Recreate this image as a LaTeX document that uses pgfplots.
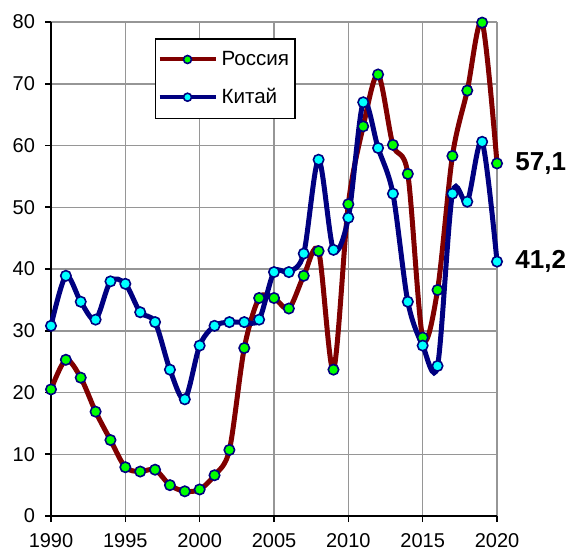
\documentclass[border=0pt]{standalone}
\usepackage{pgfplots}
\pgfplotsset{compat=1.18}
\usepackage{fontspec}
\setmainfont{Liberation Sans}

\definecolor{rus}{RGB}{128,0,0}
\definecolor{chn}{RGB}{0,0,128}
\definecolor{gmark}{RGB}{0,255,0}
\definecolor{cmark}{RGB}{0,255,255}
\definecolor{gridgray}{RGB}{150,150,150}

\begin{document}
\begin{tikzpicture}
\begin{axis}[
    scale only axis,
    width=223pt,
    height=247pt,
    xmin=1990, xmax=2020,
    ymin=0, ymax=80,
    xtick={1990,1995,...,2020},
    ytick={0,10,...,80},
    grid=major,
    grid style={gridgray, line width=0.75pt},
    axis x line=bottom,
    axis y line=left,
    axis line style={black, line width=0.8pt, -},
    tick style={black, line width=0.8pt},
    tick align=outside,
    major tick length=3pt,
    tick label style={font=\fontsize{10}{12}\selectfont},
    xticklabel style={yshift=-2pt},
    yticklabel style={xshift=-1.5pt},
    /pgf/number format/1000 sep={},
    /pgf/number format/assume math mode=true,
    clip=false,
    legend style={at={(0.233,0.967)}, anchor=north west, draw=black,
        line width=0.6pt, font=\fontsize{10.3}{12}\selectfont,
        inner xsep=1pt, inner ysep=4pt, row sep=6pt},
    legend cell align=left,
    legend image code/.code={\draw[mark repeat=2, mark phase=2, #1,
        line width=2pt, mark size=2pt]
        plot coordinates {(0pt,0pt)(14pt,0pt)(28pt,0pt)};},
]
\addplot[color=rus, line width=2.5pt, smooth, tension=0.5,
    mark=*, mark size=2.6pt,
    mark options={draw=chn, fill=gmark, line width=0.8pt}]
coordinates {
(1990,20.5)(1991,25.3)(1992,22.4)(1993,16.9)(1994,12.3)(1995,7.9)
(1996,7.2)(1997,7.5)(1998,5.0)(1999,4.0)(2000,4.3)(2001,6.6)
(2002,10.7)(2003,27.2)(2004,35.3)(2005,35.3)(2006,33.6)(2007,38.9)
(2008,42.9)(2009,23.7)(2010,50.5)(2011,63.1)(2012,71.5)(2013,60.1)
(2014,55.4)(2015,28.9)(2016,36.6)(2017,58.3)(2018,68.9)(2019,79.9)
(2020,57.1)
};
\addlegendentry{Россия}
\addplot[color=chn, line width=2.5pt, smooth, tension=0.5,
    mark=*, mark size=2.6pt,
    mark options={draw=chn, fill=cmark, line width=0.8pt}]
coordinates {
(1990,30.8)(1991,38.9)(1992,34.7)(1993,31.8)(1994,38.0)(1995,37.6)
(1996,33.0)(1997,31.4)(1998,23.7)(1999,18.9)(2000,27.6)(2001,30.8)
(2002,31.4)(2003,31.4)(2004,31.8)(2005,39.5)(2006,39.5)(2007,42.5)
(2008,57.7)(2009,43.1)(2010,48.3)(2011,67.0)(2012,59.6)(2013,52.2)
(2014,34.7)(2015,27.6)(2016,24.3)(2017,52.2)(2018,50.9)(2019,60.6)
(2020,41.2)
};
\addlegendentry{Китай}
\node[anchor=west, inner sep=0pt, font=\bfseries\fontsize{13}{15}\selectfont, xshift=9pt]
    at (axis cs:2020,57.1) {57,1};
\node[anchor=west, inner sep=0pt, font=\bfseries\fontsize{13}{15}\selectfont, xshift=9pt]
    at (axis cs:2020,41.2) {41,2};
\end{axis}
\pgfresetboundingbox
\path (current axis.south west) ++(-25.5pt,-18pt)
    rectangle ([shift={(36.5pt,11pt)}]current axis.north east);
\end{tikzpicture}
\end{document}
